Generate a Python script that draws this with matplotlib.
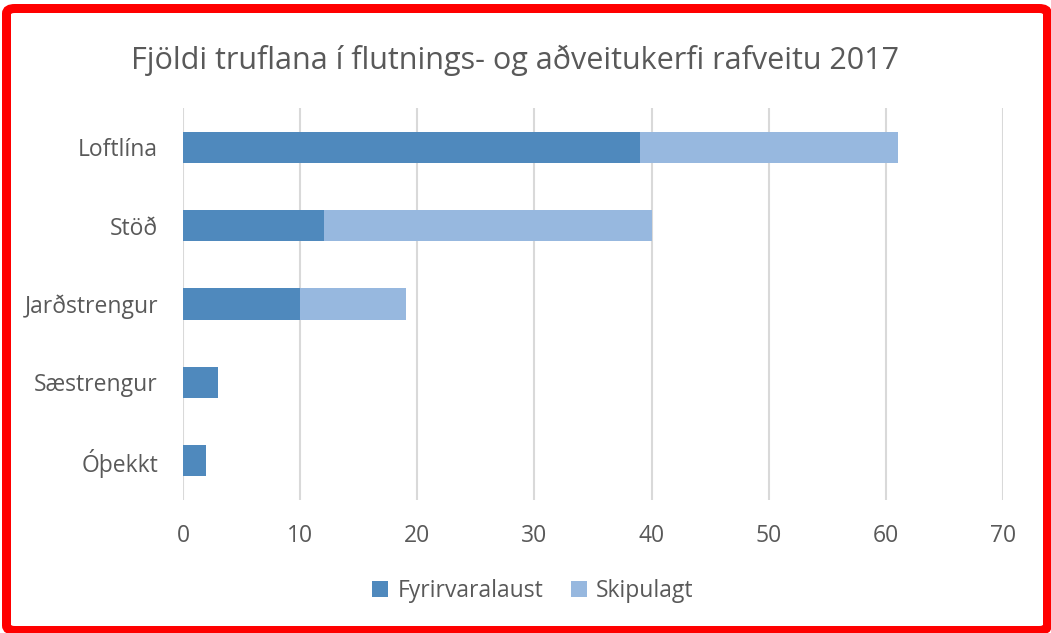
import matplotlib
matplotlib.use("Agg")
import matplotlib.pyplot as plt
from matplotlib.patches import FancyBboxPatch

categories = ["Loftlína", "Stöð", "Jarðstrengur", "Sæstrengur", "Óþekkt"]
fyrirvaralaust = [39, 12, 10, 3, 2]
skipulagt = [22, 28, 9, 0, 0]
xticks = [0, 10, 20, 30, 40, 50, 60, 70]
title = "Fjöldi truflana í flutnings- og aðveitukerfi rafveitu 2017"

plt.rcParams['font.family'] = ['Open Sans', 'DejaVu Sans']
W, H = 1051, 633
fig = plt.figure(figsize=(W / 100, H / 100), dpi=100)
ax = fig.add_axes([183 / W, 1 - 500 / H, (1003 - 183) / W, (500 - 108) / H])

c1 = "#4f89bd"
c2 = "#97b8df"
txt = "#595959"
y = list(range(len(categories)))
ax.barh(y, fyrirvaralaust, height=0.4, color=c1, label="Fyrirvaralaust", zorder=3)
ax.barh(y, skipulagt, left=fyrirvaralaust, height=0.4, color=c2, label="Skipulagt", zorder=3)
ax.set_ylim(len(categories) - 0.5, -0.5)
ax.set_xlim(0, 70)
ax.set_yticks(y)
ax.set_yticklabels(categories, fontsize=16.5, color=txt)
ax.set_xticks(xticks)
ax.set_xticklabels([str(t) for t in xticks], fontsize=16.5, color=txt)
ax.tick_params(length=0)
ax.tick_params(axis='x', pad=17)
ax.tick_params(axis='y', pad=18)
ax.xaxis.grid(True, color="#d9d9d9", linewidth=1.5, zorder=0)
for s in ax.spines.values():
    s.set_visible(False)

fig.text(515 / W, 1 - 60 / H, title, ha="center", va="center", fontsize=22, color=txt)

leg = fig.legend(loc="center", bbox_to_anchor=(533 / W, 1 - 591 / H), ncol=2, frameon=False,
                 fontsize=16.5, handlelength=0.7, handleheight=0.7, columnspacing=1.2,
                 handletextpad=0.4)
for t in leg.get_texts():
    t.set_color(txt)

border = FancyBboxPatch((6.5 / W, 2.5 / H), (1047.5 - 6.5) / W, (624.5 - 2.5) / H,
                        boxstyle="round,pad=0,rounding_size=0.008",
                        transform=fig.transFigure, fill=False, edgecolor="#ff0000",
                        linewidth=9 * 72 / 100)
fig.patches.append(border)

fig.savefig("out.png", dpi=100)
